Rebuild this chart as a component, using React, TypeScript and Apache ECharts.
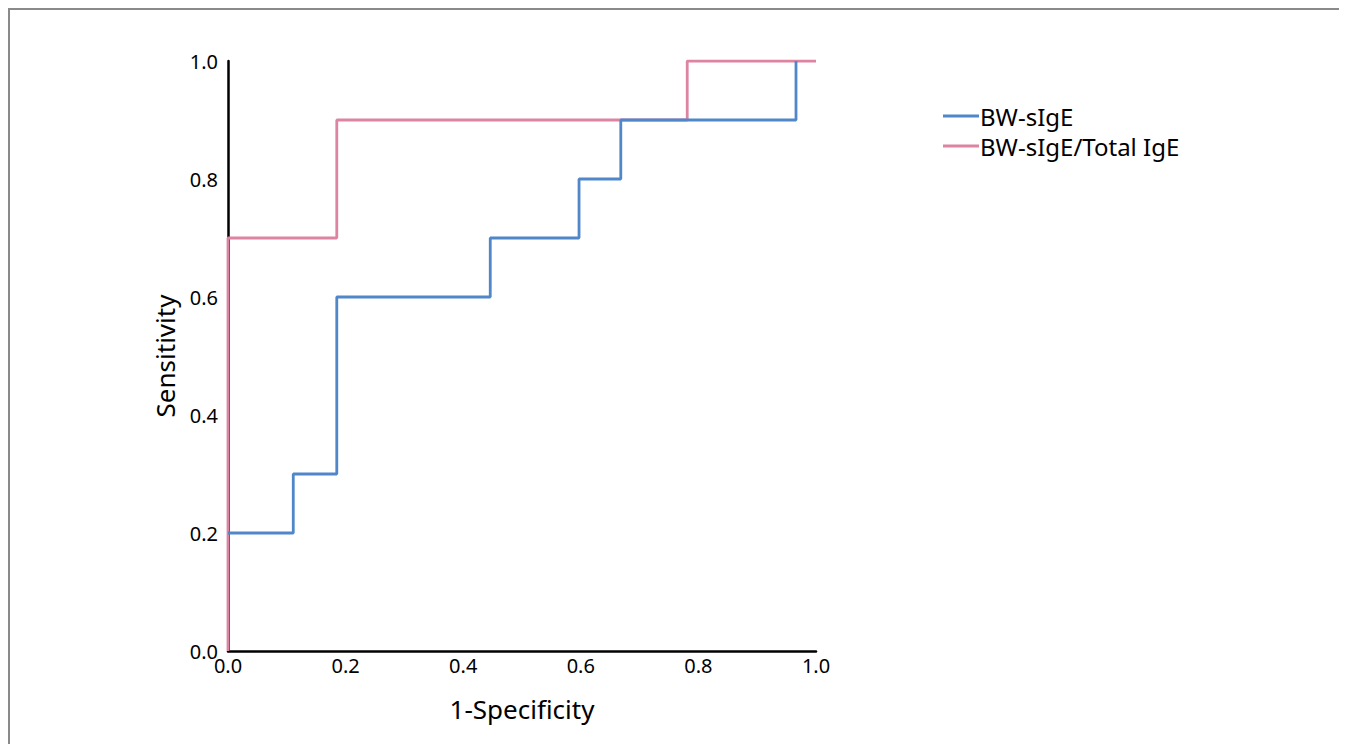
import React, { useEffect, useRef } from "react";
import * as echarts from "echarts";

const seriesNames = ["BW-sIgE", "BW-sIgE/Total IgE"];
const blueFpr = [0, 0.111, 0.111, 0.185, 0.185, 0.446, 0.446, 0.597, 0.597, 0.668, 0.668, 0.966, 0.966];
const blueTpr = [0.2, 0.2, 0.3, 0.3, 0.6, 0.6, 0.7, 0.7, 0.8, 0.8, 0.9, 0.9, 1.0];
const pinkFpr = [0, 0, 0.185, 0.185, 0.781, 0.781, 1.0];
const pinkTpr = [0, 0.7, 0.7, 0.9, 0.9, 1.0, 1.0];
const colors = ["#4f87c9", "#de84a3"];
const FONT = "Noto Sans";

export default function App() {
  const ref = useRef<HTMLDivElement>(null);
  useEffect(() => {
    if (!ref.current) return;
    const chart = echarts.init(ref.current, null, { renderer: "svg" });
    const zip = (xs: number[], ys: number[]) => xs.map((x, i) => [x, ys[i]]);
    chart.setOption({
      animation: false,
      textStyle: { fontFamily: FONT, color: "#000" },
      grid: { left: 228, right: 531, top: 61, bottom: 93 },
      legend: {
        orient: "vertical",
        left: 938,
        top: 99,
        itemWidth: 36,
        itemHeight: 3,
        itemGap: 6,
        icon: "rect",
        textStyle: { fontFamily: FONT, fontSize: 24, lineHeight: 24, color: "#000", padding: [0, 0, 0, -4] },
        data: seriesNames,
      },
      xAxis: {
        type: "value",
        min: 0,
        max: 1,
        interval: 0.2,
        name: "1-Specificity",
        nameLocation: "middle",
        nameGap: 45,
        nameTextStyle: { fontFamily: FONT, fontSize: 26, color: "#000" },
        axisLine: { show: true, onZero: false, lineStyle: { color: "#000", width: 2.5 } },
        axisTick: { show: false },
        splitLine: { show: false },
        axisLabel: { fontFamily: FONT, fontSize: 20, color: "#000", margin: 4, formatter: (v: number) => v.toFixed(1) },
      },
      yAxis: {
        type: "value",
        min: 0,
        max: 1,
        interval: 0.2,
        name: "Sensitivity",
        nameLocation: "middle",
        nameGap: 50,
        nameTextStyle: { fontFamily: FONT, fontSize: 26, color: "#000" },
        axisLine: { show: true, onZero: false, lineStyle: { color: "#000", width: 2.5 } },
        axisTick: { show: false },
        splitLine: { show: false },
        axisLabel: { fontFamily: FONT, fontSize: 20, color: "#000", margin: 10, formatter: (v: number) => v.toFixed(1) },
      },
      series: [
        {
          name: seriesNames[0],
          type: "line",
          data: zip(blueFpr, blueTpr),
          showSymbol: false,
          symbol: "none",
          lineStyle: { color: colors[0], width: 2.8 },
          itemStyle: { color: colors[0] },
          z: 3,
        },
        {
          name: seriesNames[1],
          type: "line",
          data: zip(pinkFpr, pinkTpr),
          showSymbol: false,
          symbol: "none",
          lineStyle: { color: colors[1], width: 2.8 },
          itemStyle: { color: colors[1] },
          z: 2,
        },
      ],
    });
    return () => chart.dispose();
  }, []);
  return (
    <div
      style={{
        position: "relative",
        boxSizing: "border-box",
        width: 1339,
        height: 736,
        borderTop: "2px solid #8a8a8a",
        borderLeft: "2px solid #8a8a8a",
        borderRight: "2px solid #8a8a8a",
      }}
    >
      <div ref={ref} style={{ position: "absolute", left: -10, top: -10, width: 1347, height: 744 }} />
    </div>
  );
}
